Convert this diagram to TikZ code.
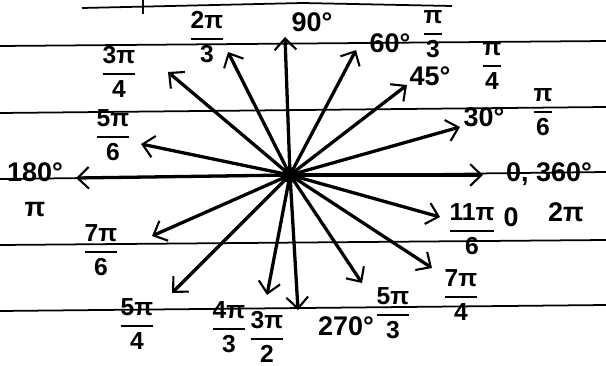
\documentclass[tikz,border=0pt]{standalone}
\usepackage{amsmath}
\usepackage{fontspec}
\setmainfont{Liberation Sans}
\usetikzlibrary{arrows.meta}
\newcommand\fracx[2]{$\genfrac{}{}{1.5pt}{0}{\text{#1}}{\text{#2}}$}
\begin{document}
\begin{tikzpicture}[x=0.03cm,y=-0.03cm,
  rule/.style={line width=1.5pt,black},
  ray/.style={line width=2.8pt,black,-{Straight Barb[length=3.4mm,width=6.5mm,line width=1.8pt]}},
  lab/.style={font=\fontsize{23}{25}\selectfont\bfseries,inner sep=0pt},
  fr/.style={font=\fontsize{21}{23}\selectfont\bfseries,inner sep=0pt}]
\useasboundingbox (0,0) rectangle (606,366);
% ruled lines
\coordinate (t1) at (82,8); \coordinate (t2) at (303,3); \coordinate (t3) at (452,6);
\draw[rule] (t1) -- (t2) -- (t3);
\coordinate (m1) at (143,0); \coordinate (m2) at (143,14);
\draw[line width=2pt] (m1) -- (m2);
\coordinate (a1) at (0,46);  \coordinate (a2) at (606,41);
\coordinate (b1) at (0,113); \coordinate (b2) at (606,107);
\coordinate (c1) at (0,179); \coordinate (c2) at (606,172);
\coordinate (d1) at (0,245); \coordinate (d2) at (606,240);
\coordinate (e1) at (0,311); \coordinate (e2) at (606,305);
\foreach \p/\q in {a1/a2,b1/b2,c1/c2,d1/d2,e1/e2} \draw[rule] (\p) -- (\q);
% center and ray tips
\coordinate (O) at (290,175);
\coordinate (r0) at (483,175);
\coordinate (r30) at (460,127);
\coordinate (r45) at (407,85);
\coordinate (r60) at (356,50);
\coordinate (r90) at (285,37);
\coordinate (r120) at (228,52);
\coordinate (r135) at (168,72);
\coordinate (r150) at (141,144);
\coordinate (r180) at (76,178);
\coordinate (r210) at (152,236);
\coordinate (r225) at (172,293);
\coordinate (r240) at (267,295);
\coordinate (r270) at (298,310);
\coordinate (r300) at (362,283);
\coordinate (r315) at (432,268);
\coordinate (r330) at (440,217);
\foreach \r in {r0,r30,r45,r60,r90,r120,r135,r150,r180,r210,r225,r240,r270,r300,r315,r330}
  \draw[ray] (O) -- (\r);
\fill (O) circle (8);
% labels
\node[lab] (l90) at (312,22) {90°};
\node[lab] (l60) at (390,43) {60°};
\node[fr] (f60) at (433,34) {\fracx{π}{3}};
\node[lab] (l45) at (430,76) {45°};
\node[fr] (f45) at (492,66) {\fracx{π}{4}};
\node[lab] (l30) at (484,117) {30°};
\node[fr] (f30) at (543,112) {\fracx{π}{6}};
\node[lab,anchor=west] (l0) at (506,174) {0, 360°};
\node[fr] (f330) at (472,229) {\fracx{11π}{6}};
\node[lab] (z0) at (511,217) {0};
\node[lab] (z2) at (566,212) {2π};
\node[fr] (f315) at (461,295) {\fracx{7π}{4}};
\node[fr] (f300) at (393,313) {\fracx{5π}{3}};
\node[lab] (l270) at (346,326) {270°};
\node[fr] (f270) at (267,337) {\fracx{3π}{2}};
\node[fr] (f240) at (229,327) {\fracx{4π}{3}};
\node[fr] (f225) at (137,324) {\fracx{5π}{4}};
\node[fr] (f210) at (101,250) {\fracx{7π}{6}};
\node[lab] (l180) at (35,172) {180°};
\node[lab] (p180) at (35,210) {π};
\node[fr] (f150) at (113,135) {\fracx{5π}{6}};
\node[fr] (f135) at (119,72) {\fracx{3π}{4}};
\node[fr] (f120) at (207,37) {\fracx{2π}{3}};
\end{tikzpicture}
\end{document}
